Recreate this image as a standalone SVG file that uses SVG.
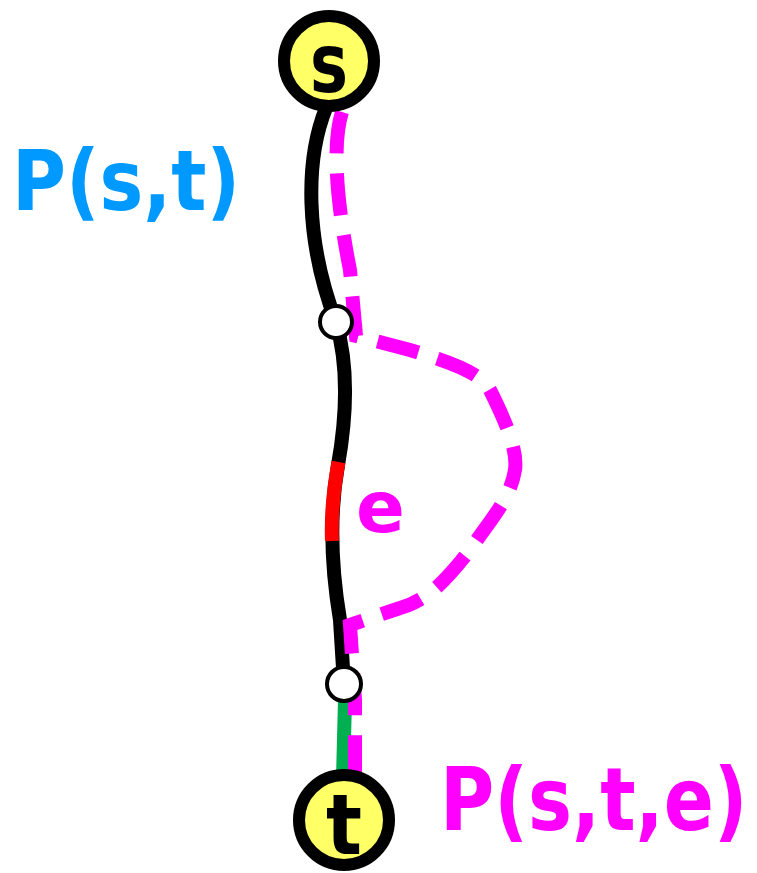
<svg xmlns="http://www.w3.org/2000/svg" width="757" height="873" viewBox="0 0 757 873">
<style>
.lbl{font-family:"DejaVu Sans","Liberation Sans",sans-serif;font-weight:bold}
.term{fill:#ffff66;stroke:#000;stroke-width:12}
.mid{fill:#fff;stroke:#000;stroke-width:4}
.edge{fill:none;stroke-width:14}
</style>
<rect width="757" height="873" fill="#fff"/>
<g id="connectors">
  <path class="edge" stroke="#000" d="M 326 108 C 305 160, 305 240, 336 322 C 350 370, 346 420, 338 465 C 330 510, 330 560, 340 620 L 344 684"/>
  <path class="edge" stroke="#ff0000" d="M 338.5 462 C 333 492, 331 515, 332 541"/>
  <path class="edge" stroke="#00b050" d="M 345 700 L 343 778"/>
  <path class="edge" stroke="#ff00ff" stroke-dasharray="42 20" d="M 342 112 C 330 150, 340 220, 350 270 L 356 336 L 410 350 C 450 362, 480 372, 490 390 C 505 420, 518 450, 515 470 C 510 500, 490 520, 470 550 C 450 575, 430 600, 400 608 L 350 625 L 355 700 L 355 775"/>
</g>
<g id="node-s">
  <circle class="term" cx="329" cy="61" r="45"/>
  <text class="lbl" x="329" y="92" font-size="82" text-anchor="middle" textLength="38" lengthAdjust="spacingAndGlyphs">s</text>
</g>
<g id="node-v1">
  <circle class="mid" cx="336" cy="322" r="16"/>
</g>
<g id="node-v2">
  <circle class="mid" cx="344" cy="684" r="17"/>
</g>
<g id="node-t">
  <circle class="term" cx="344" cy="820" r="45"/>
  <text class="lbl" x="344" y="854" font-size="84" text-anchor="middle" textLength="36" lengthAdjust="spacingAndGlyphs">t</text>
</g>
<g id="label-e">
  <text class="lbl" x="356" y="532" font-size="72" fill="#ff00ff">e</text>
</g>
<g id="label-pst">
  <text class="lbl" x="12" y="210" font-size="84" fill="#0099ff" textLength="228" lengthAdjust="spacingAndGlyphs">P(s,t)</text>
</g>
<g id="label-pste">
  <text class="lbl" x="0" y="0" font-size="74" fill="#ff00ff" transform="translate(440 830) scale(1 1.17)">P(s,t,e)</text>
</g>
</svg>
